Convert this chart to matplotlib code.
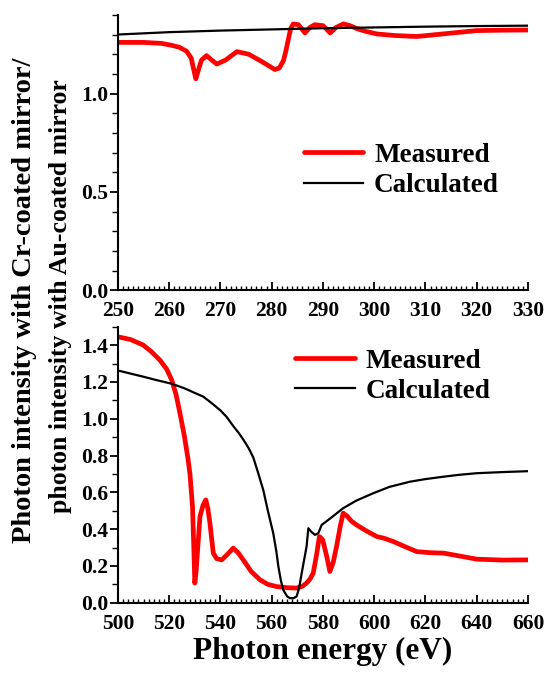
import matplotlib
matplotlib.use("Agg")
import matplotlib.pyplot as plt
from matplotlib.ticker import MultipleLocator

# Cr L-edge region (top panel)
e_cr_meas = [250, 255, 258.5, 260.5, 262.0, 263.4, 264.3, 264.8, 265.2, 265.7, 266.3, 267.3, 268.3,
             269.3, 271.0, 273.2, 275.5, 277.7, 279.5, 280.6, 281.5, 282.3, 282.8, 283.2, 283.7,
             284.2, 285.2, 286.5, 287.4, 288.4, 290.0, 290.8, 291.4, 292.5, 294.0, 295.3,
             296.6, 298.5, 300.5, 304.0, 308.3, 313.4, 320.0, 325.0, 330.0]
v_cr_meas = [1.26, 1.26, 1.255, 1.245, 1.235, 1.215, 1.18, 1.12, 1.075, 1.12, 1.17, 1.193, 1.17,
             1.15, 1.17, 1.213, 1.20, 1.168, 1.14, 1.122, 1.13, 1.168, 1.22, 1.27, 1.33,
             1.354, 1.35, 1.308, 1.335, 1.35, 1.345, 1.325, 1.308, 1.335, 1.354, 1.345,
             1.33, 1.315, 1.303, 1.295, 1.29, 1.303, 1.32, 1.322, 1.323]
e_cr_calc = [250, 260, 270, 280, 290, 300, 310, 320, 330]
v_cr_calc = [1.30, 1.312, 1.32, 1.326, 1.332, 1.336, 1.34, 1.343, 1.345]

# O K-edge region (bottom panel)
e_o_meas = [500, 505, 509.9, 513, 516.4, 519, 521, 522.7, 524.2, 526.0, 527.4, 528.1, 529.1,
            529.6, 530.0, 530.5, 531.1, 532.0, 533.2, 534.3, 535.1, 535.9, 537.2, 538.5, 540.5,
            542.5, 545.0, 547.0, 548.9, 552.0, 555.4, 558.5, 561.9, 566.0, 569.7, 572.0, 573.6,
            575.0, 576.2, 577.5, 578.6, 579.9, 581.5, 582.7, 584.0, 585.3, 586.8, 587.9, 589.5,
            591.0, 593.1, 597.0, 601.0, 604.0, 607.4, 612.0, 616.6, 622.0, 627.0, 633.0, 640.0,
            650.0, 660.0]
v_o_meas = [1.445, 1.43, 1.40, 1.365, 1.318, 1.27, 1.21, 1.13, 1.03, 0.90, 0.776, 0.70, 0.522,
            0.30, 0.107, 0.17, 0.288, 0.468, 0.53, 0.559, 0.51, 0.432, 0.27, 0.24, 0.233,
            0.26, 0.297, 0.27, 0.233, 0.17, 0.125, 0.10, 0.088, 0.082, 0.08, 0.09, 0.107,
            0.13, 0.161, 0.26, 0.36, 0.342, 0.25, 0.17, 0.22, 0.305, 0.42, 0.487, 0.47,
            0.445, 0.423, 0.39, 0.36, 0.35, 0.333, 0.305, 0.278, 0.272, 0.27, 0.255, 0.237,
            0.232, 0.233]
e_o_calc = [500, 505, 510, 515, 521, 526, 530, 533.3, 537, 540, 542.4, 545, 547, 549, 551,
            552.8, 554.5, 556.7, 558.5, 560.6, 561.8, 562.6, 563.6, 564.5, 566.0, 567.1, 568.5,
            569.7, 570.7, 571.7, 573.6, 574.3, 575.5, 576.9, 578.2, 579.5, 583.0, 587.9, 593.0,
            599.6, 606.0, 614.0, 620.0, 627.0, 633.0, 640.0, 650.0, 660.0]
v_o_calc = [1.262, 1.245, 1.228, 1.21, 1.19, 1.165, 1.14, 1.12, 1.08, 1.045, 1.01, 0.96, 0.925,
            0.885, 0.84, 0.79, 0.715, 0.613, 0.50, 0.378, 0.28, 0.197, 0.12, 0.07, 0.035, 0.025,
            0.025, 0.034, 0.08, 0.161, 0.305, 0.405, 0.385, 0.369, 0.378, 0.423, 0.46, 0.514,
            0.555, 0.595, 0.63, 0.658, 0.672, 0.685, 0.695, 0.704, 0.71, 0.715]

plt.rcParams['font.family'] = ['Liberation Serif', 'DejaVu Serif']
plt.rcParams['font.weight'] = 'bold'

fig = plt.figure(figsize=(5.46, 6.75), dpi=100)
ax1 = fig.add_axes([0.216, 0.570, 0.751, 0.408])
ax2 = fig.add_axes([0.216, 0.107, 0.751, 0.409])

red = '#ff0000'
meas_style = dict(color=red, lw=3.4, solid_joinstyle='round', solid_capstyle='round', label='Measured')
calc_style = dict(color='black', lw=1.6, solid_joinstyle='round', label='Calculated')
ax1.plot(e_cr_meas, v_cr_meas, **meas_style)
ax1.plot(e_cr_calc, v_cr_calc, **calc_style)
ax2.plot(e_o_meas, v_o_meas, **meas_style)
ax2.plot(e_o_calc, v_o_calc, **calc_style)

ax1.set_xlim(250, 330)
ax1.set_ylim(0, 1.4)
ax1.xaxis.set_major_locator(MultipleLocator(10))
ax1.xaxis.set_minor_locator(MultipleLocator(1))
ax1.yaxis.set_major_locator(MultipleLocator(0.5))
ax1.yaxis.set_minor_locator(MultipleLocator(0.1))

ax2.set_xlim(500, 660)
ax2.set_ylim(0, 1.5)
ax2.xaxis.set_major_locator(MultipleLocator(20))
ax2.xaxis.set_minor_locator(MultipleLocator(2))
ax2.yaxis.set_major_locator(MultipleLocator(0.2))
ax2.yaxis.set_minor_locator(MultipleLocator(0.1))

for ax in (ax1, ax2):
    ax.spines['top'].set_visible(False)
    ax.spines['right'].set_visible(False)
    for s in ('left', 'bottom'):
        ax.spines[s].set_linewidth(1.5)
    ax.tick_params(axis='x', which='major', direction='in', length=6, width=1.3, labelsize=15.5, pad=8)
    ax.tick_params(axis='x', which='minor', direction='in', length=3, width=1.0)
    ax.tick_params(axis='y', which='major', direction='out', length=6, width=1.3, labelsize=15.5, pad=1)
    ax.tick_params(axis='y', which='minor', direction='out', length=4, width=1.0)
    for lab in ax.get_xticklabels() + ax.get_yticklabels():
        lab.set_fontweight('bold')

leg_kw = dict(loc='upper left', frameon=False, fontsize=19.5, handlelength=2.2,
              handletextpad=0.4, labelspacing=0.2, borderpad=0)
ax1.legend(bbox_to_anchor=(0.42, 0.585), **leg_kw)
ax2.legend(bbox_to_anchor=(0.4, 0.97), **leg_kw)

ax2.set_xlabel('Photon energy (eV)', fontsize=22.5, fontweight='bold', labelpad=2)
fig.text(25 / 546, 1 - 300 / 675, 'Photon intensity with Cr-coated mirror/',
         rotation=90, ha='center', va='center', fontsize=20.5, fontweight='bold')
fig.text(61 / 546, 1 - 296 / 675, 'photon intensity with Au-coated mirror',
         rotation=90, ha='center', va='center', fontsize=18.5, fontweight='bold')

fig.savefig('out.png', dpi=100)
